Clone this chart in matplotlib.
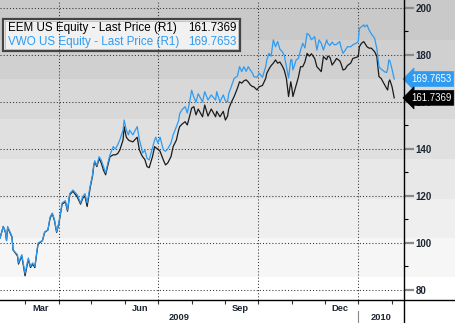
import matplotlib
matplotlib.use("Agg")
import matplotlib.pyplot as plt
import matplotlib.dates as mdates
import matplotlib.transforms as mtransforms
from matplotlib.lines import Line2D
from matplotlib.patches import Rectangle
import pandas as pd

plt.rcParams['font.family'] = ['Liberation Sans', 'DejaVu Sans']

dates = [
    '2009-02-06', '2009-02-09', '2009-02-11', '2009-02-12', '2009-02-13', '2009-02-17',
    '2009-02-18', '2009-02-22', '2009-02-23', '2009-02-26', '2009-03-01', '2009-03-04',
    '2009-03-06', '2009-03-08', '2009-03-10', '2009-03-12', '2009-03-13', '2009-03-17',
    '2009-03-19', '2009-03-22', '2009-03-24', '2009-03-26', '2009-03-28', '2009-03-30',
    '2009-04-01', '2009-04-04', '2009-04-07', '2009-04-09', '2009-04-11', '2009-04-14',
    '2009-04-18', '2009-04-21', '2009-04-23', '2009-04-25', '2009-04-27', '2009-04-30',
    '2009-05-02', '2009-05-03', '2009-05-04', '2009-05-06', '2009-05-08', '2009-05-10',
    '2009-05-12', '2009-05-14', '2009-05-16', '2009-05-18', '2009-05-21', '2009-05-23',
    '2009-05-25', '2009-05-27', '2009-05-30', '2009-05-31', '2009-06-02', '2009-06-04',
    '2009-06-05', '2009-06-08', '2009-06-12', '2009-06-14', '2009-06-16', '2009-06-17',
    '2009-06-19', '2009-06-21', '2009-06-23', '2009-06-26', '2009-06-28', '2009-06-29',
    '2009-07-01', '2009-07-03', '2009-07-06', '2009-07-08', '2009-07-10', '2009-07-13',
    '2009-07-15', '2009-07-18', '2009-07-20', '2009-07-21', '2009-07-23', '2009-07-26',
    '2009-07-28', '2009-07-30', '2009-08-01', '2009-08-03', '2009-08-05', '2009-08-07',
    '2009-08-11', '2009-08-13', '2009-08-16', '2009-08-19', '2009-08-23', '2009-08-24',
    '2009-08-27', '2009-08-30', '2009-09-01', '2009-09-03', '2009-09-04', '2009-09-06',
    '2009-09-09', '2009-09-12', '2009-09-14', '2009-09-16', '2009-09-18', '2009-09-20',
    '2009-09-22', '2009-09-24', '2009-09-26', '2009-09-27', '2009-09-30', '2009-10-02',
    '2009-10-05', '2009-10-08', '2009-10-09', '2009-10-11', '2009-10-13', '2009-10-15',
    '2009-10-17', '2009-10-19', '2009-10-21', '2009-10-23', '2009-10-25', '2009-10-27',
    '2009-10-29', '2009-10-31', '2009-11-01', '2009-11-02', '2009-11-05', '2009-11-07',
    '2009-11-09', '2009-11-11', '2009-11-13', '2009-11-15', '2009-11-17', '2009-11-19',
    '2009-11-22', '2009-11-24', '2009-11-26', '2009-11-28', '2009-11-30', '2009-12-03',
    '2009-12-04', '2009-12-06', '2009-12-08', '2009-12-10', '2009-12-12', '2009-12-15',
    '2009-12-16', '2009-12-18', '2009-12-20', '2009-12-22', '2009-12-25', '2009-12-27',
    '2009-12-30', '2010-01-01', '2010-01-02', '2010-01-04', '2010-01-06', '2010-01-07',
    '2010-01-09', '2010-01-11', '2010-01-13', '2010-01-16', '2010-01-18', '2010-01-19',
    '2010-01-20', '2010-01-22', '2010-01-25', '2010-01-27', '2010-01-28', '2010-01-29',
    '2010-01-30', '2010-02-01', '2010-02-03',
]

vwo = [
    102, 107, 104.8, 101, 107, 102.7,
    97, 95, 91.5, 95, 87, 93.6,
    90, 91.5, 90, 97, 100, 101,
    104.7, 105.5, 111, 112.7, 110, 104.8,
    108.5, 117, 118, 114, 121, 122.5,
    120.5, 117, 119.7, 121, 117, 124.7,
    129, 133, 135, 133, 136.7, 135.3,
    132.5, 129.8, 134, 137.5, 141, 140,
    141.7, 143.8, 148, 152.3, 148, 146,
    148, 146, 149.5, 144, 140.4, 138.3,
    139.5, 136, 135.3, 140.4, 143.8, 145,
    142.5, 145, 139.6, 139, 140, 142.5,
    146, 149.5, 152, 155, 156.6, 158,
    155.3, 159.6, 165, 162, 160, 163.5,
    160, 164.4, 160.8, 163, 160.8, 164.4,
    160, 163, 160.5, 160, 163.5, 166,
    170, 171, 175, 172.9, 175, 173,
    175, 173.5, 172.2, 170.8, 170.5, 172.2,
    170.5, 175, 177.9, 180.7, 179.5, 186.4,
    183.5, 185.7, 182.5, 181.5, 180, 175,
    170.2, 177.9, 178, 173.6, 177.9, 178.5,
    182, 185, 183, 189.2, 188.5, 186.5,
    187.8, 182.1, 186.4, 185, 182.1, 186.4,
    185, 184, 185.5, 184.3, 184.5, 185.7,
    183.5, 180.7, 182, 183.5, 183.5, 184.3,
    185, 185.7, 191.3, 192, 192.8, 192,
    192.8, 190.6, 189, 187.1, 182.9, 179.3,
    175, 174, 172.9, 172.5, 174, 177.9,
    177.5, 174, 169.7653,
]

eem = [
    102, 107, 104.5, 101, 106.5, 102.5,
    97, 94.5, 91, 94.5, 86, 93,
    89.5, 91, 89.5, 96.5, 99.5, 101,
    104.5, 105.5, 110.5, 112.5, 109.5, 104.5,
    108, 116.5, 117.5, 113.5, 120.5, 122,
    119.5, 116.5, 119, 120, 115.5, 124,
    128.5, 132.5, 134.5, 132.5, 136, 134,
    131, 129, 133, 136.7, 137.5, 137.5,
    138, 139.5, 143.8, 149.5, 145, 143.8,
    143.5, 143, 145, 139.6, 137.5, 136.7,
    135.5, 132.5, 132, 136.7, 141, 140.5,
    140, 139, 135.3, 133.2, 134, 136.7,
    141, 143.8, 148, 149.5, 150.5, 151.6,
    150.2, 153.7, 157.4, 158, 154.5, 157,
    153.7, 158.7, 154, 157, 153.7, 156,
    153.7, 156, 152.3, 154, 157, 159.4,
    162.3, 165.8, 168.6, 168, 169, 169.4,
    168.5, 167.2, 166.5, 166.5, 165.1, 166.5,
    167, 170, 172.2, 174, 175.5, 176.5,
    177.9, 176.5, 177, 175.5, 173.6, 170,
    162.3, 168.6, 166, 162.3, 167.2, 170.5,
    175, 175, 177, 180.7, 179.5, 180.5,
    178.5, 175, 174, 172.9, 179.3, 178,
    179.5, 179, 175.7, 177, 178.5, 177.5,
    176.5, 173.6, 174, 175.5, 176.5, 178.5,
    179, 179.3, 183.5, 185, 185.7, 185,
    183.5, 182.9, 182.9, 181.4, 179.5, 175,
    170.8, 170, 167.5, 165.8, 165.1, 168.5,
    169.4, 166.5, 161.7369,
]

series_names = ['EEM US Equity - Last Price (R1)', 'VWO US Equity - Last Price (R1)']
year_labels = ['2009', '2010']

blue = '#2e9bf2'
dark = '#1a1a1a'
label_col = '#1c2533'

x = pd.to_datetime(dates)
x_start = pd.Timestamp('2009-02-06')
x_end = pd.Timestamp('2010-02-12')
y_lo, y_hi = 75.7, 203.4

fig = plt.figure(figsize=(4.55, 3.23), dpi=100)
fig.patch.set_facecolor('white')

# shaded bands behind everything, running under the price scale too
bg = fig.add_axes([0, 23 / 323, 1, 300 / 323])
bg.set_ylim(y_lo, y_hi)
bg.axis('off')
band_edges = [y_lo, 85.5, 101.9, 118.6, 135.6, 152.6, 169.6, 186.5, y_hi]
band_cols = ['#ffffff', '#f6f6f6', '#efefef', '#e8e8e8', '#e0e0e0', '#d8d8d8', '#d0d0d0', '#c9c9c9']
for lo, hi, c in zip(band_edges[:-1], band_edges[1:], band_cols):
    bg.axhspan(lo, hi, color=c, lw=0)

ax = fig.add_axes([0, 23 / 323, 404 / 455, 300 / 323])
ax.patch.set_alpha(0)
ax.set_xlim(x_start, x_end)
ax.set_ylim(y_lo, y_hi)
for s in ax.spines.values():
    s.set_visible(False)

dots = dict(color='#333333', lw=0.75, linestyle=(0, (1, 2)))
ax.yaxis.tick_right()
ax.set_yticks(range(80, 201, 20))
ax.set_yticks(range(90, 200, 20), minor=True)
ax.grid(axis='y', which='major', **dots)
for q in pd.date_range('2009-04-01', '2010-01-01', freq='QS'):
    ax.axvline(q, **dots)
ax.tick_params(axis='y', which='major', length=7, width=1.6, color='#8a8a8a',
               pad=1.5, labelsize=7, labelcolor=label_col)
ax.tick_params(axis='y', which='minor', length=3, width=0.8, color='black')
for t in ax.get_yticklabels():
    t.set_fontweight('bold')

ax.xaxis.set_minor_locator(mdates.MonthLocator())
ax.xaxis.set_major_locator(mdates.MonthLocator(bymonth=[3, 6, 9, 12], bymonthday=15))
ax.xaxis.set_major_formatter(mdates.DateFormatter('%b'))
ax.tick_params(axis='x', which='minor', length=3, width=0.8, color='#333333')
ax.tick_params(axis='x', which='major', length=0, pad=3, labelsize=6.7, labelcolor=label_col)
for t in ax.get_xticklabels():
    t.set_fontweight('bold')

ax.plot(x, eem, color=dark, lw=0.9, zorder=3)
ax.plot(x, vwo, color=blue, lw=0.9, zorder=4)

# axis frame lines
fig.add_artist(Line2D([404 / 455] * 2, [0, 1], transform=fig.transFigure, color='black', lw=1))
fig.add_artist(Line2D([0, 1], [23 / 323] * 2, transform=fig.transFigure, color='black', lw=1))

# year row under the month labels
xd_fig = mtransforms.blended_transform_factory(ax.transData, fig.transFigure)
jan = pd.Timestamp('2010-01-01')
spans = [(x_start, jan), (jan, x_end)]
for lab, (a, b) in zip(year_labels, spans):
    ax.text(a + (b - a) / 2, 5 / 323, lab, transform=xd_fig, ha='center', va='center',
            fontsize=6.7, fontweight='bold', color=label_col)
ax.add_line(Line2D([jan, jan], [0, 12 / 323], transform=xd_fig, color='#888888', lw=0.8, clip_on=False))

# legend box
ax.add_patch(Rectangle((3 / 404, 249 / 300), 237 / 404, 32 / 300, transform=ax.transAxes,
                       facecolor='#f1f1f1', edgecolor='#444444', lw=1.6, zorder=0.5))
ax.add_patch(Rectangle((5 / 404, 251 / 300), 233 / 404, 28 / 300, transform=ax.transAxes,
                       facecolor='none', edgecolor='#bbbbbb', lw=0.6, zorder=0.6))
for name, vals, c, ypos in [(series_names[0], eem, 'black', 272 / 300),
                            (series_names[1], vwo, blue, 258 / 300)]:
    ax.text(8 / 404, ypos, name, transform=ax.transAxes, ha='left', va='center',
            fontsize=8.4, color=c)
    ax.text(237 / 404, ypos, f'{vals[-1]:.4f}', transform=ax.transAxes, ha='right',
            va='center', fontsize=8.4, color=c)

# last-value tags on the price scale
ax_data = mtransforms.blended_transform_factory(ax.transAxes, ax.transData)
for vals, c in [(vwo, blue), (eem, 'black')]:
    ax.text(411 / 404, vals[-1], f'{vals[-1]:.4f}', transform=ax_data, ha='left',
            va='center', fontsize=6.9, color='white', zorder=6, clip_on=False,
            bbox=dict(boxstyle='larrow,pad=0.25', fc=c, ec=c, lw=0.5))

fig.savefig('out.png', dpi=100)
